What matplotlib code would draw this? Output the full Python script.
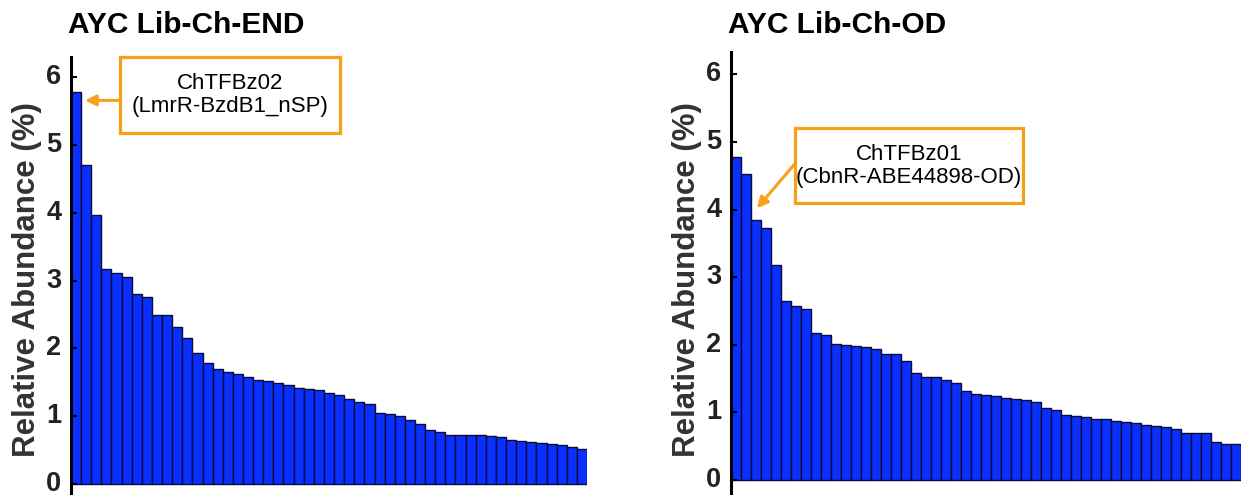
import numpy as np
import matplotlib
matplotlib.use('Agg')
import matplotlib.pyplot as plt
from matplotlib.patches import Rectangle

plt.rcParams['font.family'] = ['Liberation Sans', 'DejaVu Sans']

# Relative abundance (%) of each variant, sorted high to low
end_values = [5.78, 4.71, 3.97, 3.17, 3.11, 3.05, 2.80, 2.76, 2.49, 2.49,
              2.32, 2.16, 1.94, 1.78, 1.70, 1.66, 1.63, 1.58, 1.53, 1.52,
              1.49, 1.46, 1.42, 1.40, 1.38, 1.34, 1.31, 1.26, 1.21, 1.18,
              1.05, 1.04, 1.01, 0.95, 0.88, 0.80, 0.77, 0.73, 0.73, 0.73,
              0.73, 0.71, 0.69, 0.65, 0.64, 0.62, 0.61, 0.59, 0.58, 0.55,
              0.52]
od_values = [4.78, 4.53, 3.84, 3.73, 3.18, 2.65, 2.58, 2.53, 2.18, 2.15,
             2.02, 2.00, 1.99, 1.97, 1.94, 1.87, 1.86, 1.76, 1.58, 1.53,
             1.52, 1.48, 1.43, 1.32, 1.27, 1.26, 1.25, 1.22, 1.20, 1.18,
             1.15, 1.07, 1.04, 0.96, 0.95, 0.94, 0.90, 0.90, 0.88, 0.86,
             0.84, 0.82, 0.80, 0.79, 0.75, 0.70, 0.69, 0.69, 0.57, 0.54,
             0.53]
yticks = [0, 1, 2, 3, 4, 5, 6]

titles = ['AYC Lib-Ch-END', 'AYC Lib-Ch-OD']
notes = ['ChTFBz02\n(LmrR-BzdB1_nSP)', 'ChTFBz01\n(CbnR-ABE44898-OD)']

W, H = 1241, 495
fig = plt.figure(figsize=(W / 100, H / 100), dpi=100)

bar_color = '#0a30ff'
orange = '#f7a11a'

# axes placement in pixels, plus note box (data coords: x0, x1, y0, y1),
# arrow start and arrow tip
layout = [
    dict(x0=71, x1=587, top=57, ylim=(-0.162, 6.30), title_x=68, label_x=42,
         box=(4.34, 26.08, 5.18, 6.30), start=(4.34, 5.66), tip=(0.88, 5.66)),
    dict(x0=731, x1=1241, top=52, ylim=(-0.22, 6.33), title_x=728, label_x=702,
         box=(5.9, 28.7, 4.09, 5.20), start=(5.9, 4.68), tip=(2.1, 4.02)),
]

for values, title, note, L in zip([end_values, od_values], titles, notes, layout):
    ax = fig.add_axes([L['x0'] / W, 0, (L['x1'] - L['x0']) / W, (H - L['top']) / H])
    x = np.arange(len(values))
    ax.bar(x, values, width=1.0, color=bar_color, edgecolor='#0b0b3a', linewidth=1.0)
    ax.set_xlim(-0.5, len(values) - 0.5)
    ax.set_ylim(*L['ylim'])
    ax.set_yticks(yticks)
    ax.set_xticks([])
    for s in ['top', 'right', 'bottom']:
        ax.spines[s].set_visible(False)
    ax.spines['left'].set_linewidth(2.2)
    ax.spines['left'].set_color('black')
    ax.tick_params(axis='y', direction='in', length=4, width=1.5, pad=7,
                   labelsize=19.5, labelcolor='#222222')
    for t in ax.get_yticklabels():
        t.set_fontweight('bold')
        t.set_verticalalignment('center')
    ax.set_ylabel('Relative Abundance (%)', fontsize=22.5, fontweight='bold',
                  color='#333333')
    ax.yaxis.set_label_coords((L['label_x'] - L['x0']) / (L['x1'] - L['x0']),
                              (H - 280) / (H - L['top']))

    # note box with arrow
    bx0, bx1, by0, by1 = L['box']
    ax.add_patch(Rectangle((bx0, by0), bx1 - bx0, by1 - by0, fc='white',
                           ec=orange, lw=2.3, clip_on=False, zorder=4))
    ax.text((bx0 + bx1) / 2, (by0 + by1) / 2, note, ha='center', va='center',
            fontsize=16, color='black', linespacing=1.15, zorder=5)
    ax.annotate('', xy=L['tip'], xytext=L['start'],
                arrowprops=dict(arrowstyle='-|>', color=orange, lw=2.2,
                                mutation_scale=16, shrinkA=0, shrinkB=0),
                zorder=5)

    fig.text(L['title_x'] / W, 1 - 25 / H, title, ha='left', va='center',
             fontsize=21.5, fontweight='bold', color='black')

fig.savefig('out.png', dpi=100)
